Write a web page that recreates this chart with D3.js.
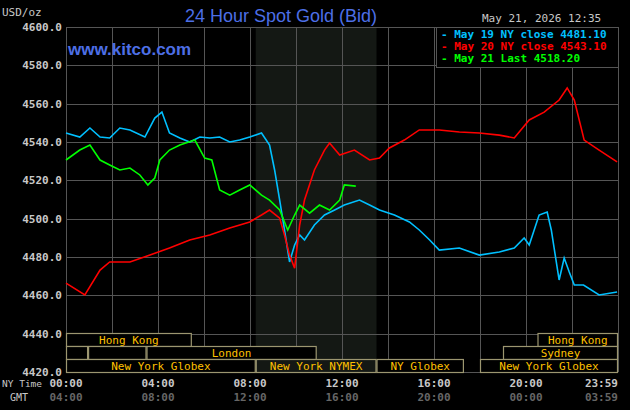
<!DOCTYPE html>
<html><head><meta charset="utf-8">
<script src="https://cdn.jsdelivr.net/npm/d3@7"></script>
<style>body{margin:0;background:#000}svg{display:block}</style>
</head><body><div id="viz"></div>
<script>
// hours since 00:00 NY time, price in USD/oz
const may19Hours = [0,0.6,1.04,1.48,1.9,2.34,2.78,3.43,3.86,4.17,4.5,4.95,5.38,5.82,6.25,6.68,7.12,7.55,7.99,8.5,8.85,9.07,9.29,9.5,9.72,9.94,10.16,10.37,10.8,11.24,11.68,12.1,12.76,13.2,13.63,14.28,14.93,15.36,15.8,16.23,17.1,17.97,18.84,19.49,19.92,20.14,20.57,20.92,21.1,21.44,21.66,21.88,22.1,22.5,23.18,23.96];
const may19Prices = [4544.7,4542.6,4547.3,4542.6,4542.1,4547.3,4546.3,4542.6,4552.5,4555.6,4544.7,4542.1,4540.0,4542.6,4542.1,4542.6,4540.0,4541.0,4542.6,4544.7,4538.4,4525.4,4509.7,4494.1,4477.4,4486.3,4491.5,4488.9,4496.7,4501.9,4504.5,4507.1,4509.7,4507.1,4504.5,4501.9,4498.3,4494.1,4489.0,4483.6,4484.7,4481.0,4482.6,4484.7,4489.9,4486.3,4501.9,4503.5,4494.1,4468.0,4479.5,4472.2,4465.4,4465.4,4460.2,4461.7];
const may20Hours = [0,0.82,1.48,1.9,2.78,3.65,4.5,5.38,6.25,7.12,7.99,8.5,8.85,9.29,9.5,9.72,9.94,10.16,10.37,10.8,11.24,11.46,11.9,12.54,13.2,13.63,14.06,14.71,15.36,16.23,17.1,17.97,18.84,19.49,20.14,20.79,21.44,21.79,22.1,22.53,23.18,23.96];
const may20Prices = [4466.4,4460.2,4473.2,4477.4,4477.4,4481.0,4484.7,4488.9,4491.5,4495.1,4498.3,4501.9,4504.5,4500.3,4491.5,4481.0,4474.2,4496.7,4509.7,4525.4,4535.8,4539.5,4533.2,4535.8,4530.6,4531.6,4536.9,4541.0,4546.3,4546.3,4545.2,4544.7,4543.6,4542.1,4551.5,4555.6,4561.9,4568.2,4561.9,4541.0,4535.8,4529.6];
const may21Hours = [0,0.6,1.04,1.48,1.9,2.34,2.78,3.21,3.56,3.86,4.08,4.5,4.95,5.6,6.03,6.34,6.68,7.12,7.55,7.99,8.5,8.85,9.29,9.64,9.94,10.16,10.59,11.02,11.46,11.9,12.1,12.6];
const may21Prices = [4530.6,4535.8,4538.4,4530.6,4528.0,4525.4,4526.4,4522.8,4517.6,4521.2,4530.6,4535.8,4538.4,4541.0,4531.6,4530.6,4515.0,4512.3,4515.0,4517.6,4512.3,4509.7,4504.5,4494.1,4501.9,4507.1,4502.9,4507.1,4504.5,4509.7,4517.6,4517.0];
const yTicks = [4420,4440,4460,4480,4500,4520,4540,4560,4580,4600];
const nyLabels = ["00:00","04:00","08:00","12:00","16:00","20:00","23:59"];
const gmtLabels = ["04:00","08:00","12:00","16:00","20:00","00:00","03:59"];
const labelHours = [0,4,8,12,16,20,24];
const legendTexts = ["May 19 NY close 4481.10","May 20 NY close 4543.10","May 21 Last 4518.20"];
const legendColors = ["#00c0ff","#ff0000","#00ff00"];
// sessions: [row, start hour, end hour, label]
const sessions = [
  [0,0,5.47,"Hong Kong"],[0,20.5,24,"Hong Kong"],
  [1,0,0.96,""],[1,0.96,3.5,""],[1,3.5,10.9,"London"],[1,19,24,"Sydney"],
  [2,0,8.25,"New York Globex"],[2,8.25,13.5,"New York NYMEX"],[2,13.5,17.3,"NY Globex"],[2,18,24,"New York Globex"]
];
const nymexShade = [8.25,13.5];

const W = 630, H = 410;
const svg = d3.select("#viz").append("svg").attr("width", W).attr("height", H);
svg.append("rect").attr("width", W).attr("height", H).attr("fill", "#000");
const x = d3.scaleLinear().domain([0,24]).range([66,618]);
const y = d3.scaleLinear().domain([4420,4600]).range([372,27]);
const mono = "'DejaVu Sans Mono', monospace";

svg.append("rect").attr("x", x(nymexShade[0])).attr("y", 27)
   .attr("width", x(nymexShade[1]) - x(nymexShade[0])).attr("height", 345).attr("fill", "#141814");

const grid = svg.append("g").attr("stroke", "#555").attr("stroke-width", 1);
grid.selectAll(".h").data(yTicks).join("line")
    .attr("x1", 66).attr("x2", 618).attr("y1", d => Math.round(y(d)) + 0.5).attr("y2", d => Math.round(y(d)) + 0.5);
grid.selectAll(".v").data(d3.range(0, 25, 2)).join("line")
    .attr("y1", 27).attr("y2", 372).attr("x1", d => Math.round(x(d)) + 0.5).attr("x2", d => Math.round(x(d)) + 0.5);

svg.selectAll(".yl").data(yTicks).join("text")
   .attr("x", 62).attr("y", d => y(d) + 4).attr("text-anchor", "end")
   .attr("fill", "#c8c8c8").attr("font-family", mono).attr("font-weight", "bold").attr("font-size", 11)
   .text(d => d.toFixed(1));
svg.append("text").attr("x", 2).attr("y", 16).attr("fill", "#c8c8c8").attr("font-family", mono).attr("font-size", 11).text("USD/oz");

// sessions
const rowTop = [333, 346, 359];
const sess = svg.append("g");
sessions.forEach(s => {
  const isNymex = s[3] === "New York NYMEX";
  sess.append("rect").attr("x", x(s[1]) + 0.5).attr("y", rowTop[s[0]] + 0.5)
      .attr("width", x(s[2]) - x(s[1]) - 1).attr("height", 13)
      .attr("fill", isNymex ? "#141814" : "#000").attr("stroke", "#9c9670").attr("stroke-width", 1.2);
  if (s[3]) sess.append("text").attr("x", (x(s[1]) + x(s[2])) / 2).attr("y", rowTop[s[0]] + 11)
      .attr("text-anchor", "middle").attr("fill", "#ffc000").attr("font-family", mono).attr("font-size", 11).text(s[3]);
});

// series
const series = [[may19Hours, may19Prices], [may20Hours, may20Prices], [may21Hours, may21Prices]];
const line = d3.line().x(d => x(d[0])).y(d => y(d[1]));
series.forEach((s, i) => {
  svg.append("path").datum(d3.zip(s[0], s[1])).attr("d", line)
     .attr("fill", "none").attr("stroke", legendColors[i]).attr("stroke-width", 1.6);
});

// x labels
svg.selectAll(".xl").data(labelHours).join("text")
   .attr("x", d => d === 24 ? 618 : x(d)).attr("y", 387).attr("text-anchor", d => d === 24 ? "end" : "middle")
   .attr("fill", "#c8c8c8").attr("font-family", mono).attr("font-weight", "bold").attr("font-size", 11)
   .text((d, i) => nyLabels[i]);
svg.selectAll(".gl").data(labelHours).join("text")
   .attr("x", d => d === 24 ? 618 : x(d)).attr("y", 401).attr("text-anchor", d => d === 24 ? "end" : "middle")
   .attr("fill", "#666").attr("font-family", mono).attr("font-weight", "bold").attr("font-size", 11)
   .text((d, i) => gmtLabels[i]);
svg.append("text").attr("x", 2).attr("y", 387).attr("fill", "#c8c8c8").attr("font-family", mono).attr("font-size", 9.5).text("NY Time");
svg.append("text").attr("x", 10).attr("y", 401).attr("fill", "#c8c8c8").attr("font-family", mono).attr("font-size", 10).text("GMT");

// title & watermark
svg.append("text").attr("x", 281).attr("y", 22).attr("text-anchor", "middle").attr("fill", "#4d6fe6")
   .attr("font-family", "'Liberation Sans', Arial, sans-serif").attr("font-size", 18).text("24 Hour Spot Gold (Bid)");
svg.append("text").attr("x", 482).attr("y", 22).attr("fill", "#c8c8c8").attr("font-family", mono).attr("font-size", 11).text("May 21, 2026 12:35");
svg.append("text").attr("x", 68).attr("y", 55).attr("fill", "#4d6fe6")
   .attr("font-family", "'Liberation Sans', Arial, sans-serif").attr("font-weight", "bold").attr("font-size", 17).text("www.kitco.com");

// legend
svg.append("rect").attr("x", 436.5).attr("y", 27.5).attr("width", 182).attr("height", 40).attr("fill", "#000").attr("stroke", "#555");
legendTexts.forEach((t, i) => {
  svg.append("text").attr("x", 441).attr("y", 38 + i * 12).attr("fill", legendColors[i])
     .attr("font-family", mono).attr("font-weight", "bold").attr("font-size", 11).text("- " + t);
});
</script></body></html>
